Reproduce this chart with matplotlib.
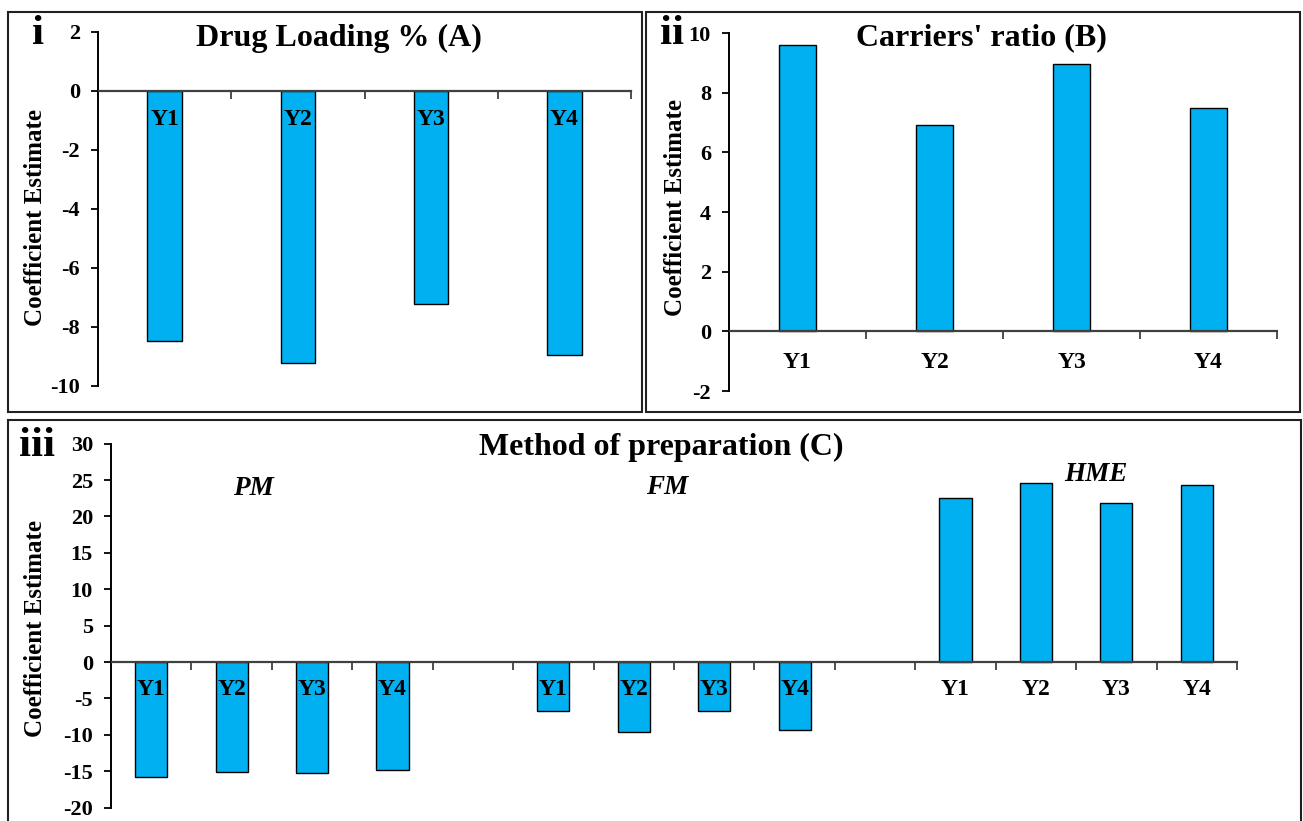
import matplotlib
matplotlib.use("Agg")
import matplotlib.pyplot as plt
from matplotlib.patches import Rectangle
import numpy as np

# ---------------- data ----------------
categories = ['Y1', 'Y2', 'Y3', 'Y4']
drug_loading = [-8.49, -9.23, -7.22, -8.96]
carriers_ratio = [9.60, 6.90, 8.95, 7.50]
pm_values = [-15.80, -15.15, -15.20, -14.84]
fm_values = [-6.73, -9.57, -6.69, -9.38]
hme_values = [22.57, 24.63, 21.84, 24.30]
group_names = ['PM', 'FM', 'HME']
yticks_a = [-10, -8, -6, -4, -2, 0, 2]
yticks_b = [-2, 0, 2, 4, 6, 8, 10]
yticks_c = [-20, -15, -10, -5, 0, 5, 10, 15, 20, 25, 30]

# ---------------- style ----------------
W, H = 1303, 821
FONT = 'Liberation Serif'
BAR = '#00B0F0'
plt.rcParams['font.family'] = [FONT, 'DejaVu Serif']
plt.rcParams['font.weight'] = 'bold'

fig = plt.figure(figsize=(W / 100, H / 100), dpi=100)


def px_axes(l, r, t, b):
    return fig.add_axes([l / W, 1 - b / H, (r - l) / W, (b - t) / H])


def fx(x):
    return x / W


def fy(y):
    return 1 - y / H


def style_axes(ax, ylim, yticks, ncat, xcenters, labels, lpad):
    ax.set_axisbelow(False)
    ax.set_ylim(*ylim)
    ax.set_xlim(-0.5, ncat - 0.5)
    for s in ['top', 'right']:
        ax.spines[s].set_visible(False)
    ax.spines['bottom'].set_position(('data', 0))
    ax.spines['bottom'].set_color('#404040')
    ax.spines['bottom'].set_linewidth(1.6)
    ax.spines['left'].set_linewidth(1.4)
    ax.set_yticks(yticks)
    ax.set_yticklabels([str(t) for t in yticks])
    ax.tick_params(axis='y', direction='out', length=5, width=1.3, pad=8,
                   labelsize=16)
    ax.set_xticks(np.arange(0.5, ncat - 0.4, 1.0))
    ax.set_xticklabels([])
    ax.set_xticks(xcenters, minor=True)
    ax.set_xticklabels(labels, minor=True)
    ax.tick_params(axis='x', which='major', direction='out', length=6,
                   width=1.3, color='#404040')
    ax.tick_params(axis='x', which='minor', length=0, pad=lpad, labelsize=17)
    for lab in ax.get_yticklabels() + ax.get_xticklabels(minor=True):
        lab.set_fontweight('bold')


def draw_bars(ax, x, vals, width):
    ax.bar(x, vals, width=width, color=BAR, edgecolor='black',
           linewidth=1.0, zorder=1)


# ---------------- panel i ----------------
ax1 = px_axes(98, 631, 32, 386)
x1 = np.arange(len(categories))
draw_bars(ax1, x1, drug_loading, 0.26)
style_axes(ax1, (-10, 2), yticks_a, 4, x1, categories, 13)

# ---------------- panel ii ----------------
ax2 = px_axes(729, 1277, 33, 391)
x2 = np.arange(len(categories))
draw_bars(ax2, x2, carriers_ratio, 0.27)
style_axes(ax2, (-2, 10), yticks_b, 4, x2, categories, 15)

# ---------------- panel iii ----------------
ax3 = px_axes(111, 1237, 443.6, 807.6)
x_pm = np.arange(0, 4)
x_fm = np.arange(5, 9)
x_hme = np.arange(10, 14)
draw_bars(ax3, x_pm, pm_values, 0.4)
draw_bars(ax3, x_fm, fm_values, 0.4)
draw_bars(ax3, x_hme, hme_values, 0.4)
centers3 = np.concatenate([x_pm, x_fm, x_hme])
style_axes(ax3, (-20, 30), yticks_c, 14, centers3, categories * 3, 12)

group_pos = [(1.27, 23.8), (6.42, 24.0), (11.75, 25.7)]
for name, (gx, gy) in zip(group_names, group_pos):
    ax3.text(gx, gy, name, ha='center', va='center', fontsize=19.5,
             fontweight='bold', fontstyle='italic', family=FONT)

# ---------------- titles, labels, frames ----------------
fig.text(fx(339), fy(38), 'Drug Loading % (A)', ha='center', va='center',
         fontsize=23, fontweight='bold')
fig.text(fx(981), fy(38), "Carriers' ratio (B)", ha='center', va='center',
         fontsize=23, fontweight='bold')
fig.text(fx(661), fy(447), 'Method of preparation (C)', ha='center',
         va='center', fontsize=23, fontweight='bold')

for (px, py, s) in [(38, 34, 'i'), (672, 34, 'ii'), (37, 446, 'iii')]:
    fig.text(fx(px), fy(py), s, ha='center', va='center', fontsize=31,
             fontweight='bold')

for (px, py) in [(36, 217), (675, 208), (36, 628)]:
    fig.text(fx(px), fy(py), 'Coefficient Estimate', rotation=90,
             ha='center', va='center', fontsize=18, fontweight='bold')

for (l, t, r, b) in [(8, 12, 642, 412), (646, 12, 1300, 412),
                     (8, 420, 1301, 830)]:
    fig.patches.append(Rectangle((fx(l), fy(b)), (r - l) / W, (b - t) / H,
                                 transform=fig.transFigure, fill=False,
                                 edgecolor='#202020', linewidth=1.5))

fig.savefig('out.png', dpi=100)
